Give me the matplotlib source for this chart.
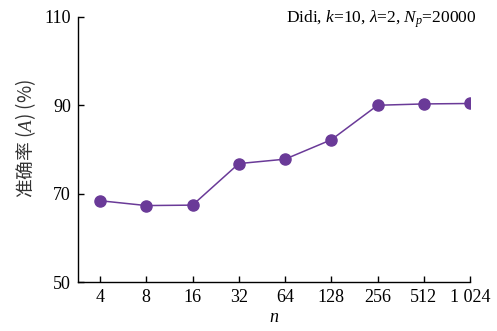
import matplotlib.pyplot as plt

plt.rcParams['font.family'] = ['Liberation Serif', 'Noto Sans CJK SC']
plt.rcParams['mathtext.fontset'] = 'custom'
plt.rcParams['mathtext.rm'] = 'Liberation Serif'
plt.rcParams['mathtext.it'] = 'Liberation Serif:italic'

n_labels = ["4", "8", "16", "32", "64", "128", "256", "512", "1 024"]
accuracy = [68.4, 67.3, 67.4, 76.8, 77.8, 82.2, 90.0, 90.3, 90.4]
purple = "#6a3a98"

fig = plt.figure(figsize=(4.97, 3.31), dpi=100)
ax = fig.add_axes([0.157, 0.148, 0.789, 0.801])

x = list(range(len(n_labels)))
ax.plot(x, accuracy, color=purple, lw=1.1, marker='o', ms=8, mfc=purple, mec=purple)

ax.set_xlim(-0.475, 8)
ax.set_ylim(50, 110)
ax.set_yticks([50, 70, 90, 110])
ax.set_xticks(x)
ax.set_xticklabels(n_labels)
ax.tick_params(direction='in', length=4, width=1, labelsize=13, pad=5)
for s in ['top', 'right']:
    ax.spines[s].set_visible(False)
for s in ['left', 'bottom']:
    ax.spines[s].set_linewidth(1)

ax.set_xlabel(r"$n$", fontsize=13, labelpad=2)
# the CJK part needs a CJK face; mathtext does not fall back between families
ax.set_ylabel(r"准确率 ($A$) (%)", fontsize=13.5, labelpad=4,
              family='Noto Sans CJK SC', color='#333333')
ax.yaxis.set_label_coords(-0.103, 0.54)
fig.text(0.958, 0.975, r"Didi, $k$=10, $\lambda$=2, $N_p$=20000",
         ha='right', va='top', fontsize=12.5)

fig.savefig("out.png", dpi=100)
